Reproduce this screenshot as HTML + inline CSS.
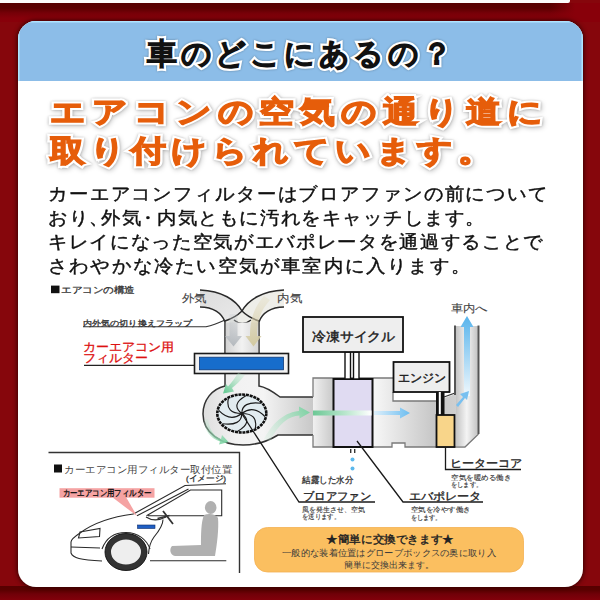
<!DOCTYPE html>
<html><head><meta charset="utf-8">
<style>
html,body{margin:0;padding:0}
body{width:600px;height:600px;overflow:hidden;position:relative;background:#86060c;font-family:"Liberation Sans",sans-serif}
.abs{position:absolute}
#strip{left:0;top:0;width:570px;height:2.5px;background:#fbfbfb;border-radius:0 0 2px 0}
#topgrad{left:0;top:2.5px;width:600px;height:19px;background:linear-gradient(#560000 0,#5a0000 5px,#760008 10px,#86000a 15px,#88000a 19px)}
#trfade{left:550px;top:2.5px;width:50px;height:18.5px;background:linear-gradient(to right,rgba(136,0,10,0) 0,rgba(136,0,10,0.6) 15px,#88000a 25px)}
#botgrad{left:0;top:586px;width:600px;height:14px;background:linear-gradient(#560000 0,#5a0000 4px,#700008 8px,#82000a 14px)}
#panel{left:18px;top:21px;width:564.5px;height:565.5px;border-radius:18px;background:#fff;overflow:hidden;box-shadow:0 0 4px 1px rgba(50,0,0,0.9)}
#hdr{left:0;top:0;width:565px;height:59.5px;background:#8cbde8;box-shadow:inset 1.5px 1.5px 0 #b0e4ff,inset -1.5px 0 0 #b0e4ff}
.t{position:absolute;white-space:nowrap;line-height:1}
.h1{left:129px;top:18px;font-size:30px;color:#111;letter-spacing:3.5px}
.h1.o{-webkit-text-stroke:6.5px #fff;color:#fff;filter:drop-shadow(0 0 0.8px rgba(0,0,0,0.3))}
.h1.f{-webkit-text-stroke:2px #111}
.title{font-size:35px;color:#e65d0a;letter-spacing:5px;transform:scaleY(0.86);transform-origin:0 19px}
.title.o{-webkit-text-stroke:7.5px #fff;color:#fff;filter:drop-shadow(0 0 1.5px rgba(0,0,0,0.22)) drop-shadow(1px 2px 2.5px rgba(0,0,0,0.2))}
.title.f{-webkit-text-stroke:2.8px #e65d0a}
.body{font-size:19.5px;color:#111;letter-spacing:0.87px;-webkit-text-stroke:0.45px #111;transform:scaleY(0.93);transform-origin:0 10px}
#dg{position:absolute;left:0;top:0}
#dg text{font-family:"Liberation Sans",sans-serif}
</style></head>
<body>
<div id="topgrad" class="abs"></div>
<div id="trfade" class="abs"></div>
<div id="strip" class="abs"></div>
<div id="botgrad" class="abs"></div>
<div id="panel" class="abs">
  <div id="hdr" class="abs"></div>
  <div class="t h1 o">車のどこにあるの？</div>
  <div class="t h1 f">車のどこにあるの？</div>
  <div class="t title o" style="left:32px;top:73px;letter-spacing:5.9px">エアコンの空気の通り道に</div>
  <div class="t title f" style="left:32px;top:73px;letter-spacing:5.9px">エアコンの空気の通り道に</div>
  <div class="t title o" style="left:32px;top:111.5px">取り付けられています。</div>
  <div class="t title f" style="left:32px;top:111.5px">取り付けられています。</div>
  <div class="t body" style="left:30px;top:163px">カーエアコンフィルターはブロアファンの前について</div>
  <div class="t body" style="left:30px;top:187px">お<span style="letter-spacing:0px">り</span><span style="letter-spacing:-7.5px">、</span>外<span style="letter-spacing:-4px">気</span><span style="letter-spacing:-1px">・</span><span style="letter-spacing:0.55px">内気ともに汚れをキャッチします。</span></div>
  <div class="t body" style="left:30px;top:211px;letter-spacing:0.66px">キレイになった空気がエバポレータを通過することで</div>
  <div class="t body" style="left:30px;top:235px;letter-spacing:1.2px">さわやかな冷たい空気が車室内に入ります。</div>
</div>
<svg id="dg" width="600" height="600" viewBox="0 0 600 600">
<defs>
  <linearGradient id="gDuctV" x1="0" y1="0" x2="1" y2="0">
    <stop offset="0" stop-color="#d2d2d2"/><stop offset="0.5" stop-color="#f2f2f2"/><stop offset="1" stop-color="#d6d6d6"/>
  </linearGradient>
  <linearGradient id="gDuctH" gradientUnits="userSpaceOnUse" x1="203" y1="0" x2="313" y2="0">
    <stop offset="0" stop-color="#dedede"/><stop offset="0.3" stop-color="#f2f2f2"/><stop offset="0.55" stop-color="#f4f4f4"/><stop offset="1" stop-color="#c8c8c8"/>
  </linearGradient>
  <linearGradient id="gHouse" gradientUnits="userSpaceOnUse" x1="313" y1="0" x2="478" y2="0">
    <stop offset="0" stop-color="#f0f0f0"/><stop offset="0.12" stop-color="#cacaca"/><stop offset="0.36" stop-color="#f8f8f8"/><stop offset="0.74" stop-color="#c6c6c6"/><stop offset="0.86" stop-color="#cfcfcf"/><stop offset="1" stop-color="#d8d8d8"/>
  </linearGradient>
  <linearGradient id="gOut" x1="0" y1="0" x2="1" y2="0">
    <stop offset="0" stop-color="#c4c4c4"/><stop offset="0.5" stop-color="#f4f4f4"/><stop offset="1" stop-color="#c4c4c4"/>
  </linearGradient>
  <linearGradient id="gArrowG" x1="0" y1="0" x2="1" y2="0">
    <stop offset="0" stop-color="#6cc895"/><stop offset="0.55" stop-color="#b8e6cc"/><stop offset="1" stop-color="#ffffff"/>
  </linearGradient>
  <linearGradient id="gArrowB" x1="0" y1="1" x2="0" y2="0">
    <stop offset="0" stop-color="#f0f8fd"/><stop offset="1" stop-color="#58b4ec"/>
  </linearGradient>
  <linearGradient id="gArrowB2" x1="0" y1="0" x2="1" y2="0">
    <stop offset="0" stop-color="#dff0fb"/><stop offset="1" stop-color="#6cbdf0"/>
  </linearGradient>
  <linearGradient id="gBandL" x1="0" y1="0" x2="1" y2="1">
    <stop offset="0" stop-color="#dcdcdc"/><stop offset="1" stop-color="#eeeeee"/>
  </linearGradient>
</defs>

<!-- label -->
<rect x="51" y="285.6" width="8.5" height="7.6" fill="#111"/>
<text x="61" y="293" font-size="9" fill="#333" textLength="74" lengthAdjust="spacingAndGlyphs" stroke="#333" stroke-width="0.3">エアコンの構造</text>

<!-- inlet bands -->
<path d="M200,290 C222,291 236,300 242,311 L259,321 L259,330 L225,330 L225,321 C222,313 213,307 200,307 Z" fill="url(#gBandL)"/>
<path d="M284,290 C262,291 248,300 242,311 L225,321 L225,330 L259,330 L259,321 C262,313 271,307 284,307 Z" fill="#eeeee9"/>
<g fill="none" stroke="#2a2a2a" stroke-width="1.5">
<path d="M200,290 C222,291 236,300 242,311 C247,316 253,319 259,321"/>
<path d="M284,290 C262,291 248,300 242,311 C237,316 231,319 225,321"/>
<path d="M200,307 C213,307 222,313 225,322 L225,354"/>
<path d="M284,307 C271,307 262,313 259,322 L259,354"/>
<path d="M234,320 Q242,327 251,320" stroke-width="1.3"/>
</g>
<rect x="225.8" y="322.5" width="32.4" height="31" fill="url(#gDuctV)"/>
<!-- arrows in duct -->
<linearGradient id="gi1" gradientUnits="userSpaceOnUse" x1="0" y1="312" x2="0" y2="346"><stop offset="0" stop-color="#c4c8cc" stop-opacity="0.2"/><stop offset="1" stop-color="#b4b9be"/></linearGradient>
<linearGradient id="gi2" gradientUnits="userSpaceOnUse" x1="0" y1="298" x2="0" y2="346"><stop offset="0" stop-color="#e0d8b8" stop-opacity="0.3"/><stop offset="1" stop-color="#d2c9a0"/></linearGradient>
<path d="M229.5,314 L237.5,314 L237.5,336 L242,336 L233.5,346.5 L225,336 L229.5,336 Z" fill="url(#gi1)"/>
<path d="M270,300 C260,311 257,322 257,336 L261.5,336 L253.5,346.5 L245.5,336 L250,336 C250,320 254,307 264,296 Z" fill="url(#gi2)"/>
<!-- labels -->
<text x="181.5" y="301.5" font-size="10.5" fill="#444" textLength="25" lengthAdjust="spacingAndGlyphs" stroke="#444" stroke-width="0.1">外気</text>
<text x="277" y="301.5" font-size="10.5" fill="#444" textLength="25" lengthAdjust="spacingAndGlyphs" stroke="#444" stroke-width="0.1">内気</text>
<text x="83" y="325.5" font-size="8" fill="#333" textLength="109" lengthAdjust="spacingAndGlyphs" stroke="#333" stroke-width="0.3">内外気の切り換えフラップ</text>
<path d="M83,326.8 L206,326.8 Q214,325 225,320" fill="none" stroke="#333" stroke-width="1.1"/>

<text x="82.5" y="350.5" font-size="12" fill="#dd1111" textLength="91" lengthAdjust="spacingAndGlyphs" stroke="#dd1111" stroke-width="0.3">カーエアコン用</text>
<text x="82.5" y="362" font-size="12" fill="#dd1111" textLength="65" lengthAdjust="spacingAndGlyphs" stroke="#dd1111" stroke-width="0.3">フィルター</text>
<line x1="84" y1="365.3" x2="202" y2="365.3" stroke="#222" stroke-width="1.3"/>

<!-- duct below filter + fan housing -->
<path d="M225,373 L225,386 C212,389 203,400 203,414 C203,433 221,445 243,445 C258,445 270,440 278,435 L313,435 L313,397 L280,397 C272,391 266,387 259,386 L259,373 Z" fill="url(#gDuctH)"/>
<g fill="none" stroke="#333" stroke-width="1.5">
<path d="M225,373 L225,386 C212,389 203,400 203,414 C203,433 221,445 243,445 C258,445 270,440 278,435 L313,435"/>
<path d="M259,373 L259,386 C266,387 272,391 280,397 L313,397"/>
</g>

<!-- filter -->
<rect x="194.5" y="353.5" width="94" height="20" fill="#f2f2f2" stroke="#1a1a1a" stroke-width="1.6"/>
<rect x="199.5" y="357.2" width="84" height="12.6" fill="#176dcc" stroke="#0d3a7a" stroke-width="0.8"/>

<!-- housing (evaporator) -->
<path d="M313,378 L393,378 L393,401 L437,401 L455,394 L455,326 L478.5,326 L478.5,434 L465,447 L405,447 L405,443 L392,443 L392,447 L313,447 Z" fill="url(#gHouse)"/>
<g fill="none" stroke="#7a7a7a" stroke-width="1.3">
<path d="M313,435 L313,447 L392,447 L392,443 L405,443 L405,447 L465,447 L478.5,434"/>
<path d="M313,397 L313,378 L393,378"/>
<path d="M393,392 L393,401 L437,401"/><path d="M444,397 L455,393" stroke="#333"/>
</g>
<path d="M456,326 L477.5,326 L477.5,433.5 L464.5,446.3 L456,446.3 Z" fill="url(#gOut)"/>
<line x1="455" y1="325.5" x2="455" y2="395" stroke="#555" stroke-width="2"/>
<line x1="478.5" y1="325.5" x2="478.5" y2="434" stroke="#555" stroke-width="2"/>

<!-- evaporator -->
<rect x="333.5" y="379" width="39" height="68" fill="#e0dbf2" stroke="#111" stroke-width="2"/>
<!-- green arrow through housing -->
<rect x="313" y="410.5" width="58.5" height="5" fill="url(#gArrowG)"/>
<path d="M374,411 L400,411 L400,407.5 L410,413 L400,418.5 L400,415 L374,415 Z" fill="url(#gArrowB2)"/>
<!-- pipes to evaporator -->
<rect x="345" y="352" width="5.5" height="27" fill="#fff" stroke="#111" stroke-width="1.4"/>
<rect x="353.5" y="352" width="5.5" height="27" fill="#fff" stroke="#111" stroke-width="1.4"/>
<!-- cycle box -->
<rect x="303" y="317" width="100" height="35" fill="#eeeeee" stroke="#111" stroke-width="1.8"/>
<text x="312" y="341" font-size="12.5" fill="#222" stroke="#222" stroke-width="0.45" textLength="83" lengthAdjust="spacingAndGlyphs">冷凍サイクル</text>
<!-- engine -->
<rect x="393.5" y="362" width="56" height="30" fill="#eeeeee" stroke="#111" stroke-width="1.8"/>
<text x="397.5" y="382" font-size="12" fill="#222" stroke="#222" stroke-width="0.45" textLength="48" lengthAdjust="spacingAndGlyphs">エンジン</text>
<!-- heater pipes -->
<rect x="436" y="392" width="8.5" height="23" fill="#111"/>
<rect x="438.8" y="392" width="2" height="23" fill="#fff"/>
<!-- heater core -->
<rect x="436.5" y="415" width="18" height="32" fill="#f8d58a" stroke="#111" stroke-width="1.8"/>
<!-- outlet arrows -->
<path d="M464,396 L464,327 L460.5,327 L467,316 L473.5,327 L470,327 L470,396 Z" fill="url(#gArrowB)"/>
<path d="M456,405 L463,397 L460,394 L469,391 L467,400 L465,398 L458,407 Z" fill="#78c0f0"/>
<text x="450.5" y="311.5" font-size="10.5" fill="#444" textLength="37" lengthAdjust="spacingAndGlyphs" stroke="#444" stroke-width="0.1">車内へ</text>

<!-- fan -->
<ellipse cx="241.8" cy="413.5" rx="24.5" ry="19" fill="#e2ecf0" stroke="#111" stroke-width="2.6" stroke-dasharray="3 0.8"/>
<path fill="none" stroke="#1a1a1a" stroke-width="1.15" d="M241.8,413.5 Q253.4,404.6 264.9,416.6 M241.8,413.5 Q258.2,413.5 255.3,428.2 M241.8,413.5 Q253.4,422.4 237.7,431.2 M241.8,413.5 Q241.8,426.1 222.5,423.8 M241.8,413.5 Q230.2,422.4 218.7,410.4 M241.8,413.5 Q225.4,413.5 228.3,398.8 M241.8,413.5 Q230.2,404.6 245.9,395.8 M241.8,413.5 Q241.8,400.9 261.1,403.2"/>
<!-- green arrows -->
<linearGradient id="ga1" gradientUnits="userSpaceOnUse" x1="244" y1="374" x2="226" y2="392"><stop offset="0" stop-color="#bfe8cf" stop-opacity="0.3"/><stop offset="1" stop-color="#6ccb97"/></linearGradient>
<linearGradient id="ga2" gradientUnits="userSpaceOnUse" x1="205" y1="418" x2="227" y2="442"><stop offset="0" stop-color="#bfe8cf" stop-opacity="0.2"/><stop offset="1" stop-color="#7ed3a4"/></linearGradient>
<linearGradient id="ga3" gradientUnits="userSpaceOnUse" x1="262" y1="440" x2="310" y2="412"><stop offset="0" stop-color="#d4efdf" stop-opacity="0.2"/><stop offset="1" stop-color="#7ed3a4"/></linearGradient>
<path d="M245,375 C240,381 236,385 232,388 L234,391.5 L223,393.5 L226,384 L228,386.5 C232,382 235,378 238,373 Z" fill="url(#ga1)"/>
<path d="M208,419 C209,430 214,436 221,439 L222,435 L228.5,442 L219,444.5 L220,441.5 C210,438 205,431 203.5,420 Z" fill="url(#ga2)"/>
<path d="M264,439 C274,420 287,412 299,411 L299,406.5 L310,412.5 L299.5,418.5 L299.5,415.5 C289,416 279,423 270,441 Z" fill="url(#ga3)"/>

<!-- water drops -->
<rect x="350" y="449" width="1.4" height="4" fill="#333"/><rect x="354" y="449" width="1.4" height="4" fill="#333"/>
<circle cx="352.5" cy="459.5" r="2" fill="#5cb8ec"/>
<circle cx="352.5" cy="468.5" r="2" fill="#5cb8ec"/>
<text x="302" y="483" font-size="8.5" fill="#333" textLength="51" lengthAdjust="spacingAndGlyphs" stroke="#333" stroke-width="0.3">結露した水分</text>

<!-- leader lines -->
<g fill="none" stroke="#1a1a1a" stroke-width="1.3">
<path d="M242,414 L299,502 L375,502"/>
<path d="M357,441 L403,502 L483,502"/>
<path d="M445.5,447 L445.5,469.5 L521,469.5"/>
</g>
<text x="303" y="500" font-size="11" fill="#222" textLength="68" lengthAdjust="spacingAndGlyphs" stroke="#222" stroke-width="0.35">ブロアファン</text>
<text x="302" y="511.8" font-size="7" fill="#333" textLength="63" lengthAdjust="spacingAndGlyphs" stroke="#333" stroke-width="0.12">風を発生させ、空気</text>
<text x="302" y="519" font-size="7" fill="#333" textLength="38" lengthAdjust="spacingAndGlyphs" stroke="#333" stroke-width="0.12">を送ります。</text>
<text x="409" y="499.5" font-size="11" fill="#222" textLength="72.5" lengthAdjust="spacingAndGlyphs" stroke="#222" stroke-width="0.35">エバポレータ</text>
<text x="410.5" y="512" font-size="7" fill="#333" textLength="60" lengthAdjust="spacingAndGlyphs" stroke="#333" stroke-width="0.12">空気を冷やす働き</text>
<text x="410.5" y="519.5" font-size="7" fill="#333" textLength="31" lengthAdjust="spacingAndGlyphs" stroke="#333" stroke-width="0.12">をします。</text>
<text x="449.5" y="467" font-size="11" fill="#222" textLength="72.5" lengthAdjust="spacingAndGlyphs" stroke="#222" stroke-width="0.35">ヒーターコア</text>
<text x="451" y="479.5" font-size="7" fill="#333" textLength="60" lengthAdjust="spacingAndGlyphs" stroke="#333" stroke-width="0.12">空気を暖める働き</text>
<text x="451" y="487" font-size="7" fill="#333" textLength="31" lengthAdjust="spacingAndGlyphs" stroke="#333" stroke-width="0.12">をします。</text>

<!-- inset box -->
<path d="M48.5,452.5 L239.5,452.5 L239.5,573" fill="none" stroke="#333" stroke-width="1.4"/>
<rect x="54" y="464.5" width="8" height="8" fill="#111"/>
<text x="64" y="472.5" font-size="9.5" fill="#444" textLength="168" lengthAdjust="spacingAndGlyphs">カーエアコン用フィルター取付位置</text>
<text x="186" y="481" font-size="7.5" fill="#333" textLength="40" lengthAdjust="spacingAndGlyphs" stroke="#333" stroke-width="0.3">(イメージ)</text>
<!-- car -->
<g fill="none" stroke="#2a2a2a" stroke-width="1.1">
  <path d="M133.5,514 L185,485.5 L226,483.8"/>
  <path d="M137,515.8 L188.5,489"/>
  <path d="M146.5,515.8 L190.5,490 L221.7,490 L221.7,515.8 L148,515.8"/>
  <path d="M133.5,514 C110,517 92,524 80,533 C74,537 71,540 71,542 L71,553 C73,558 80,560 102,561"/>
  <path d="M102,549 C106,538 115,532.5 126,532.5 C138,532.5 147,540 150,549"/>
  <path d="M150,560.7 L226.3,560.7"/>
  <path d="M148.5,554 C149,546 151,541 154,537 C159,531 163,525 163,519.5"/>
  <path d="M80,532 L100,528.5 L99.5,536.5 L78.5,538 Z"/>
  <path d="M71,547 L100,548"/>
  <path d="M146,517 C152,521 158,521 166,517"/>
</g>
<ellipse cx="126" cy="552" rx="18" ry="15.5" fill="#eeeeee" stroke="#333" stroke-width="6"/>
<ellipse cx="126" cy="552" rx="21" ry="18.5" fill="none" stroke="#111" stroke-width="0.9"/>
<path d="M163,511 L173,524 M157.5,518.5 L169.5,515.5" stroke="#333" stroke-width="1.8" fill="none"/>
<!-- seat -->
<ellipse cx="210.7" cy="507.5" rx="5.8" ry="6.5" fill="#b0b0b0"/>
<path d="M204,515 C209,513 216,514 218,518 C219,528 217,545 215,556 L175,556 C170,555 169,549 172,546 L201,545 C201,535 201,522 204,515 Z" fill="#b0b0b0"/>
<!-- blue filter in car -->
<rect x="137.5" y="525" width="17.5" height="3.5" fill="#1f5fc4" stroke="#0c2c6c" stroke-width="0.6"/>
<!-- pink label -->
<path d="M112,497 L126,497 L137,516 Z" fill="#f5a3a3"/>
<rect x="59.5" y="488.2" width="95" height="9.5" fill="#f5a3a3"/>
<text x="62.5" y="496.3" font-size="8.5" fill="#111" stroke="#111" stroke-width="0.35" textLength="89" lengthAdjust="spacingAndGlyphs">カーエアコン用フィルター</text>

<!-- orange box -->
<rect x="254.5" y="527.5" width="269" height="44.5" rx="13" fill="#fbbf60" stroke="#f4b050" stroke-width="0.8"/>
<text x="326" y="542.5" font-size="11" fill="#222" stroke="#222" stroke-width="0.4" textLength="128" lengthAdjust="spacingAndGlyphs">★簡単に交換できます★</text>
<text x="282" y="556" font-size="8.5" fill="#3a3a3a" textLength="214" lengthAdjust="spacingAndGlyphs">一般的な装着位置はグローブボックスの奥に取り入</text>
<text x="344" y="568" font-size="8.5" fill="#3a3a3a" textLength="90" lengthAdjust="spacingAndGlyphs">簡単に交換出来ます。</text>

</svg>
</body></html>
